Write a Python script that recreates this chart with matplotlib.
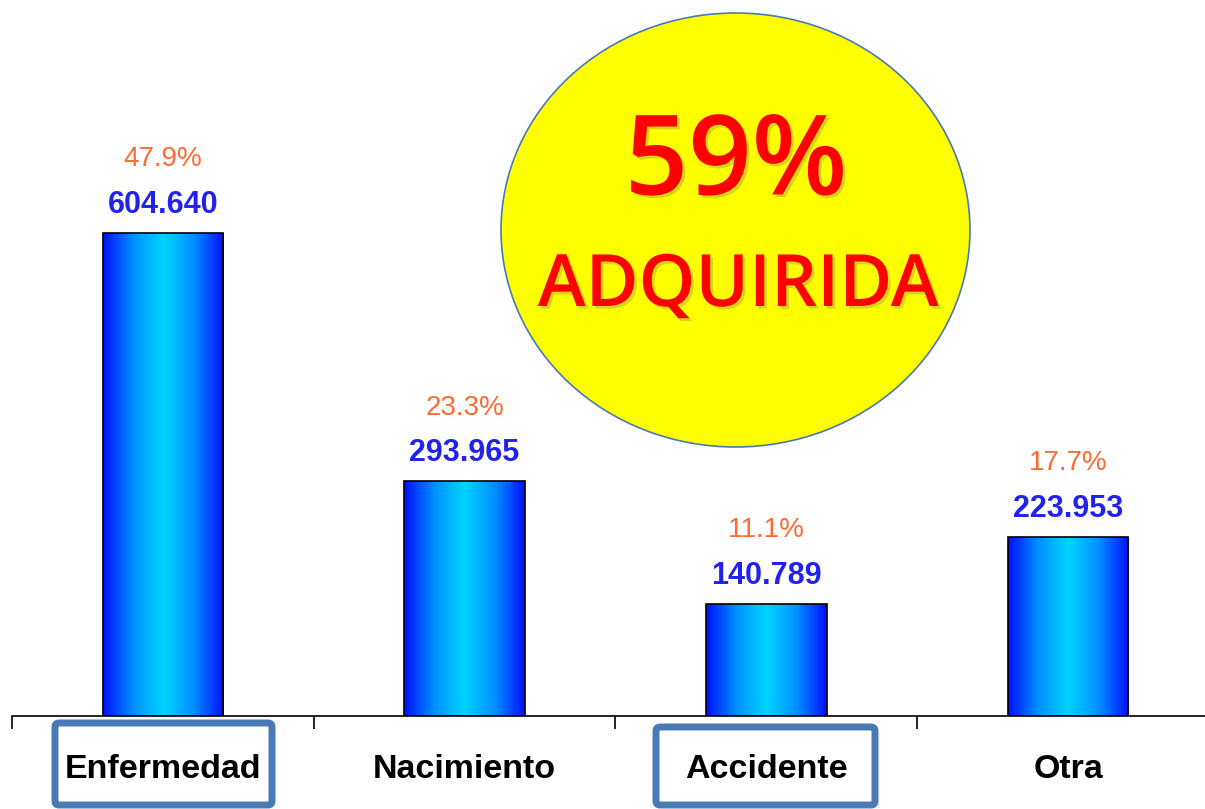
import numpy as np
import matplotlib
matplotlib.use('Agg')
import matplotlib.pyplot as plt
from matplotlib.colors import LinearSegmentedColormap
from matplotlib.patches import Ellipse, FancyBboxPatch
import matplotlib.patheffects as pe

categories = ["Enfermedad", "Nacimiento", "Accidente", "Otra"]
values = [604640, 293965, 140789, 223953]
value_labels = ["604.640", "293.965", "140.789", "223.953"]
pct_labels = ["47.9%", "23.3%", "11.1%", "17.7%"]
boxed = ["Enfermedad", "Accidente"]
badge_big = "59%"
badge_small = "ADQUIRIDA"

W, H = 1205, 809
fig = plt.figure(figsize=(W / 100, H / 100), dpi=100)
fig.patch.set_facecolor('white')

# axes: baseline at y=716 px, left boundary tick at x=12 px
ax = fig.add_axes([12 / W, (H - 716) / H, 1 - 12 / W, 716 / H])
for s in ['top', 'left', 'right']:
    ax.spines[s].set_visible(False)
ax.spines['bottom'].set_linewidth(1.2)
ax.set_yticks([])
ax.set_xticks([])
ax.set_xticks(np.arange(len(categories)) - 0.5, minor=True)
ax.tick_params(axis='x', which='minor', length=9.5, width=1.2, direction='out')
ax.patch.set_alpha(0)

cmap = LinearSegmentedColormap.from_list(
    'barg', ['#0010ff', '#0090ff', '#00d4ff', '#0090ff', '#0010ff'])
grad = np.linspace(0, 1, 256).reshape(1, -1)
x = np.arange(len(categories))
bars = ax.bar(x, values, width=0.4, color='none', edgecolor='black', linewidth=1.2, zorder=3)
for b in bars:
    im = ax.imshow(grad, cmap=cmap, aspect='auto', zorder=2,
                   extent=[b.get_x(), b.get_x() + b.get_width(), 0, b.get_height()])
    im.set_clip_path(b)
ax.set_xlim(-0.5, 3.454)
ax.set_ylim(0, 896300)

font = 'Liberation Sans'
for xi, v, vl, pl in zip(x, values, value_labels, pct_labels):
    ax.annotate(vl, (xi, v), xytext=(0, 20), textcoords='offset points',
                ha='center', va='center', fontsize=22, fontweight='bold',
                color='#2222ee', family=font)
    ax.annotate(pl, (xi, v), xytext=(0, 53), textcoords='offset points',
                ha='center', va='center', fontsize=20, color='#ff6a33', family=font)
    ax.annotate(categories[xi], (xi, 0), xycoords=('data', 'axes fraction'),
                xytext=(0, -38.5), textcoords='offset points',
                ha='center', va='center', fontsize=24.5, fontweight='bold',
                color='black', family=font)

# boxes around highlighted labels (pixel coords -> inches)
box_px = {"Enfermedad": (55, 723, 272, 805), "Accidente": (656, 727, 875, 805)}
for name in boxed:
    x0, y0, x1, y1 = box_px[name]
    p = FancyBboxPatch((x0 / 100, (H - y1) / 100), (x1 - x0) / 100, (y1 - y0) / 100,
                       boxstyle='round,pad=0,rounding_size=0.04',
                       transform=fig.dpi_scale_trans, fill=False,
                       edgecolor='#4a7ab5', linewidth=5, zorder=5)
    fig.add_artist(p)

# yellow badge
circ = Ellipse((735.5 / 100, (H - 230) / 100), 4.69, 4.34, transform=fig.dpi_scale_trans,
               facecolor='#ffff00', edgecolor='#4a7ab5', linewidth=1.2, zorder=6)
fig.add_artist(circ)
shadow = [pe.withSimplePatchShadow(offset=(2, -2), shadow_rgbFace='#666666', alpha=0.25)]
fig.text(736 / W, 1 - 166 / H, badge_big, ha='center', va='center', fontsize=80,
         fontweight=600, color='#ff0000', family='Open Sans',
         zorder=7, path_effects=shadow)
fig.text(738 / W, 1 - 287 / H, badge_small, ha='center', va='center', fontsize=52,
         fontweight=600, color='#ff0000', family='Open Sans',
         zorder=7, path_effects=shadow)

fig.savefig('out.png', dpi=100)
